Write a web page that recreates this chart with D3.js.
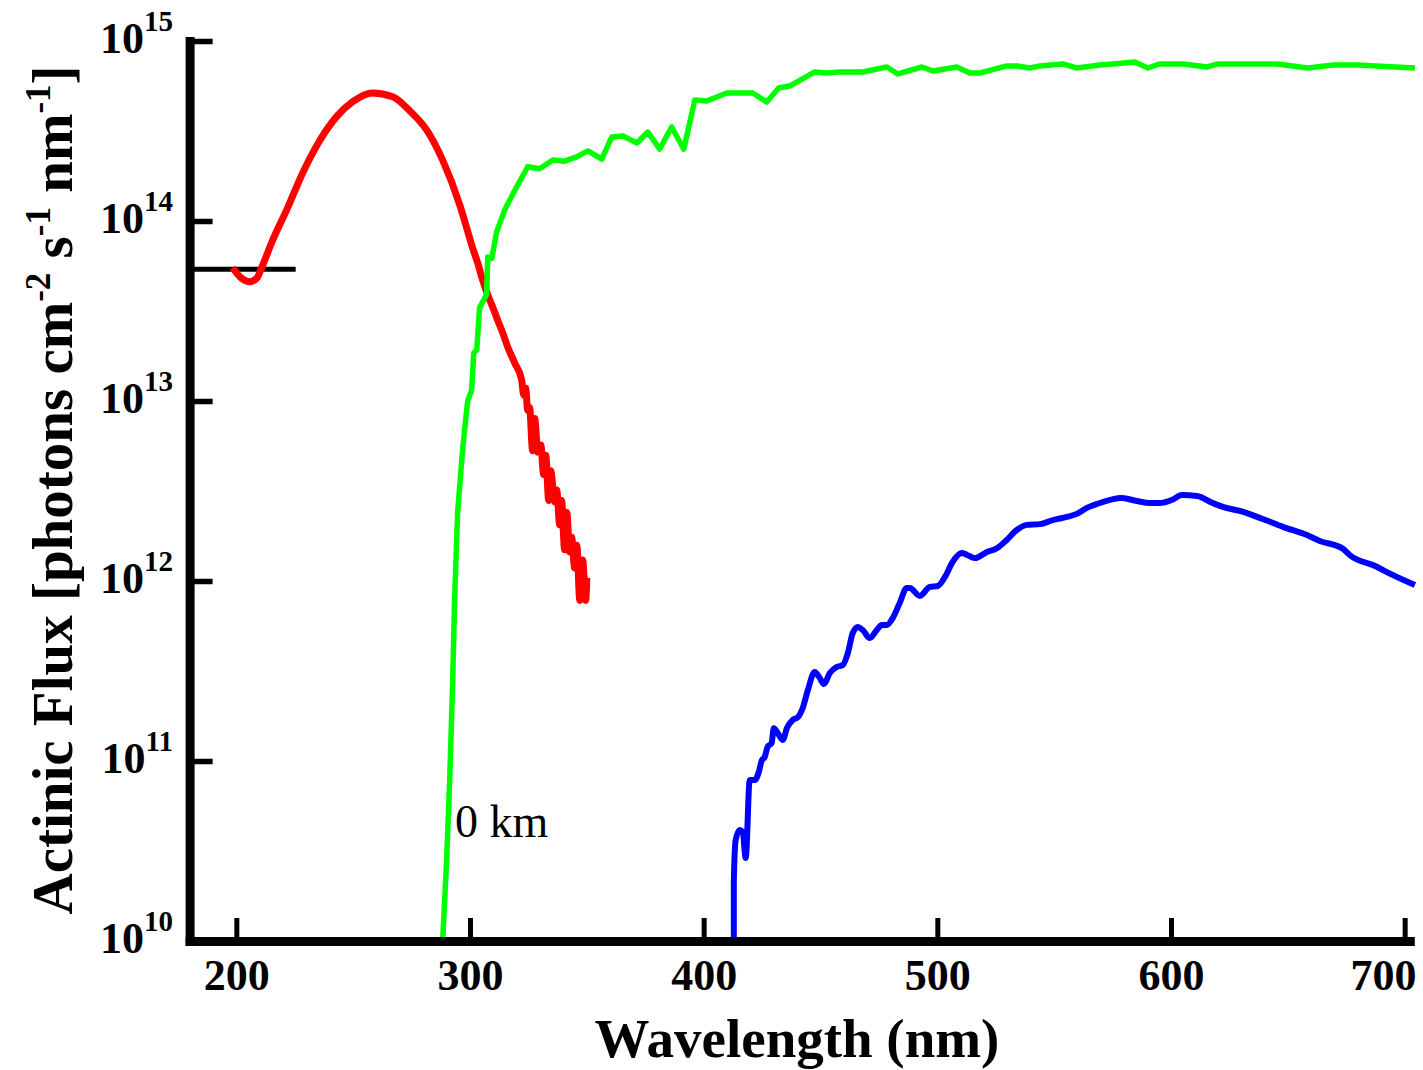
<!DOCTYPE html>
<html>
<head>
<meta charset="utf-8">
<script src="https://cdn.jsdelivr.net/npm/d3@7"></script>
<style>
  html, body { margin: 0; padding: 0; background: #fff; }
  svg { display: block; }
  text { font-family: "Liberation Serif", "Times New Roman", Times, serif; }
</style>
</head>
<body>
<svg id="chart" width="1423" height="1070"></svg>
<script>
// Actinic flux spectra (photons cm^-2 s^-1 nm^-1) versus wavelength (nm)

const xTicks = [200, 300, 400, 500, 600, 700];
const yTicks = [10, 11, 12, 13, 14, 15]; // exponents of ten

// extraterrestrial reference level below 225 nm
const blackWl   = [181.3, 190, 200, 210, 225.4];
const blackFlux = [5.4e13, 5.4e13, 5.4e13, 5.4e13, 5.4e13];

// UV band (red)
const redWl = [198.4, 202.3, 205.7, 208.7, 210.8, 215.5, 221.5, 228.4, 235.7, 242.9,
  249.8, 258.3, 266.9, 274.2, 281.5, 288.3, 295.6, 298.6, 300.7, 303.3, 305.4, 307.6,
  309.7, 311.8, 314.0, 316.1, 319.1, 322.1, 323.0, 323.8, 324.7, 325.5,
  326.8, 327.7, 329.0, 330.3, 331.5, 332.4,
  333.7, 334.5, 336.3, 337.1, 338.4, 339.2, 340.5, 341.4, 342.7, 343.5, 344.8,
  345.7, 347.0, 348.2, 349.5, 350.0];
const redFlux = [5.5e13, 4.8e13, 4.6e13, 4.8e13, 5.5e13, 7.8e13, 1.15e14, 1.85e14, 2.8e14, 3.8e14,
  4.6e14, 5.15e14, 4.9e14, 4.1e14, 3.2e14, 2.18e14, 1.23e14, 9.15e13, 7.36e13, 5.84e13, 4.7e13, 3.88e13,
  3.33e13, 2.82e13, 2.39e13, 2.0e13, 1.63e13, 1.31e13, 1.08e13, 1.18e13, 8.9e12, 9.2e12,
  5.3e12, 8.0e12, 5.2e12, 5.7e12, 3.9e12, 5.0e12,
  2.8e12, 4.1e12, 2.75e12, 3.2e12, 2.05e12, 2.8e12, 1.49e12, 2.4e12, 1.45e12, 1.75e12, 1.18e12,
  1.58e12, 7.8e11, 1.31e12, 7.8e11, 1.04e12];

// surface spectrum, 0 km (green)
const greenWl = [288.3, 290.0, 291.3, 292.6, 293.4, 294.7, 296.9, 299.0, 300.7, 301.6,
  302.9, 304.1, 305.4, 307.1, 307.6, 309.3, 311.4, 314.8, 320.0, 324.7, 329.8, 335.4,
  340.5, 345.7, 350.4, 356.4, 360.7, 365.4, 371.4, 376.1, 381.2, 386.3, 391.5, 396.2,
  401.3, 409.9, 421.0, 427.0, 432.1, 436.8, 447.5, 452.7, 458.3, 468.1, 478.4, 483.1,
  493.4, 498.1, 508.3, 513.9, 518.2, 529.7, 534.0, 539.6, 543.9, 553.7, 559.7, 569.6,
  575.1, 584.5, 590.1, 595.2, 605.1, 615.4, 620.1, 645.3, 658.6, 669.3, 679.6, 704.4];
const greenFlux = [1.0e10, 2.8e10, 7.8e10, 2.8e11, 7.8e11, 2.4e12, 5.5e12, 1.0e13, 1.15e13, 1.85e13,
  1.92e13, 3.3e13, 3.55e13, 3.9e13, 6.3e13, 6.2e13, 8.7e13, 1.15e14, 1.55e14, 2.0e14, 1.95e14, 2.18e14,
  2.15e14, 2.27e14, 2.45e14, 2.21e14, 2.93e14, 2.97e14, 2.71e14, 3.12e14, 2.51e14, 3.33e14, 2.51e14, 4.7e14,
  4.64e14, 5.14e14, 5.14e14, 4.58e14, 5.48e14, 5.62e14, 6.73e14, 6.64e14, 6.73e14, 6.73e14, 7.17e14, 6.56e14,
  7.17e14, 6.81e14, 7.17e14, 6.64e14, 6.64e14, 7.27e14, 7.27e14, 7.08e14, 7.27e14, 7.46e14, 7.08e14, 7.36e14,
  7.46e14, 7.65e14, 7.08e14, 7.46e14, 7.46e14, 7.17e14, 7.46e14, 7.46e14, 7.08e14, 7.36e14, 7.36e14, 7.08e14];

// visible band (blue)
const blueWl = [412.9, 412.9, 413.7, 415.4, 416.7, 418.0, 419.7, 421.9, 423.6, 424.9,
  426.1, 427.4, 429.1, 430.0, 431.7, 433.9, 435.6, 438.1, 440.3, 442.4, 444.6, 447.5,
  449.7, 451.4, 454.0, 457.0, 459.5, 461.7, 463.8, 466.0, 468.1, 471.1, 474.1, 476.2,
  478.4, 480.9, 483.9, 486.9, 488.2, 492.5, 496.8, 500.2, 503.2, 506.6, 510.5, 512.6,
  516.0, 521.2, 525.5, 529.7, 534.0, 538.3, 543.9, 549.4, 555.4, 559.7, 564.0, 568.3,
  579.0, 585.4, 591.0, 595.2, 600.4, 604.7, 611.1, 617.9, 622.2, 629.5, 639.3, 647.9,
  658.2, 663.7, 673.6, 676.6, 688.1, 692.4, 704.4];
const blueFlux = [1.0e10, 2.1e10, 3.64e10, 4.14e10, 4.03e10, 2.89e10, 7.84e10, 7.84e10, 8.69e10, 1.01e11,
  1.05e11, 1.2e11, 1.26e11, 1.52e11, 1.43e11, 1.31e11, 1.52e11, 1.69e11, 1.75e11, 1.97e11, 2.48e11, 3.12e11,
  2.89e11, 2.68e11, 3.08e11, 3.33e11, 3.41e11, 3.98e11, 5.14e11, 5.55e11, 5.34e11, 4.82e11, 5.34e11, 5.7e11,
  5.7e11, 6.22e11, 7.55e11, 9.15e11, 9.15e11, 8.26e11, 9.27e11, 9.38e11, 1.05e12, 1.28e12, 1.43e12, 1.4e12,
  1.34e12, 1.45e12, 1.52e12, 1.69e12, 1.92e12, 2.05e12, 2.07e12, 2.18e12, 2.27e12, 2.36e12, 2.55e12, 2.68e12,
  2.89e12, 2.78e12, 2.71e12, 2.71e12, 2.82e12, 3.0e12, 2.97e12, 2.71e12, 2.58e12, 2.45e12, 2.21e12, 2.0e12,
  1.8e12, 1.67e12, 1.51e12, 1.39e12, 1.2e12, 1.12e12, 9.5e11];

const FONT = '"Liberation Serif", "Times New Roman", Times, serif';

const svg = d3.select("#chart");

const x = d3.scaleLinear().domain([180, 702.2]).range([189.6, 1409.8]);
const y = d3.scaleLog().domain([1e10, 1e15]).range([941, 41]);

const zip = (a, b) => a.map((v, i) => [v, b[i]]);

function drawSeries(wl, flux, color, width, curve) {
  const line = d3.line()
    .x(d => x(d[0]))
    .y(d => y(d[1]))
    .curve(curve);
  svg.append("path")
    .datum(zip(wl, flux))
    .attr("fill", "none")
    .attr("stroke", color)
    .attr("stroke-width", width)
    .attr("stroke-linejoin", "round")
    .attr("stroke-linecap", "butt")
    .attr("d", line);
}

drawSeries(blackWl, blackFlux, "#000000", 5, d3.curveLinear);
drawSeries(redWl, redFlux, "#ff0000", 7, d3.curveMonotoneX);
drawSeries(greenWl, greenFlux, "#00ff00", 5.5, d3.curveLinear);
drawSeries(blueWl, blueFlux, "#0000ff", 6, d3.curveMonotoneX);

// x axis: ticks pointing up into the plot
const xAxis = d3.axisBottom(x)
  .tickValues(xTicks)
  .tickSizeInner(-23)
  .tickSizeOuter(0)
  .tickPadding(18)
  .tickFormat(d3.format("d"));

const gx = svg.append("g")
  .attr("transform", `translate(0,${y(1e10)})`)
  .call(xAxis);
gx.select(".domain").attr("stroke", "#000").attr("stroke-width", 9).attr("stroke-linecap", "square");
gx.selectAll(".tick line").attr("stroke", "#000").attr("stroke-width", 5);
gx.selectAll(".tick text")
  .attr("fill", "#000")
  .style("font-family", FONT)
  .style("font-size", "44px")
  .style("font-weight", "bold");
// last label sits flush against the right edge
gx.selectAll(".tick text")
  .filter(d => d === xTicks[xTicks.length - 1])
  .attr("text-anchor", "end")
  .attr("x", 1416 - x(xTicks[xTicks.length - 1]));

// y axis: logarithmic, ticks pointing right into the plot
const yAxis = d3.axisLeft(y)
  .tickValues(yTicks.map(e => Math.pow(10, e)))
  .tickSizeInner(-23)
  .tickSizeOuter(0)
  .tickFormat("");

const gy = svg.append("g")
  .attr("transform", `translate(${x(180)},0)`)
  .call(yAxis);
gy.select(".domain").attr("stroke", "#000").attr("stroke-width", 9).attr("stroke-linecap", "square");
gy.selectAll(".tick line").attr("stroke", "#000").attr("stroke-width", 5.5);

// power-of-ten tick labels
const yLabels = svg.append("g")
  .attr("font-family", FONT)
  .attr("font-weight", "bold")
  .attr("fill", "#000");
yTicks.forEach(e => {
  const t = yLabels.append("text")
    .attr("x", 173)
    .attr("y", y(Math.pow(10, e)) + 12)
    .attr("text-anchor", "end")
    .attr("font-size", 44);
  t.append("tspan").text("10");
  t.append("tspan").attr("dy", -22).attr("font-size", 29).text(String(e));
});

// axis titles
svg.append("text")
  .attr("x", 797)
  .attr("y", 1057)
  .attr("text-anchor", "middle")
  .attr("font-family", FONT)
  .attr("font-weight", "bold")
  .attr("font-size", 55)
  .text("Wavelength (nm)");

const yTitle = svg.append("text")
  .attr("transform", "translate(72,490) rotate(-90)")
  .attr("text-anchor", "middle")
  .attr("font-family", FONT)
  .attr("font-weight", "bold")
  .attr("font-size", 57);
yTitle.append("tspan").text("Actinic Flux [photons cm");
yTitle.append("tspan").attr("dy", -22).attr("font-size", 35).text("-2");
yTitle.append("tspan").attr("dy", 22).text(" s");
yTitle.append("tspan").attr("dy", -22).attr("font-size", 35).text("-1");
yTitle.append("tspan").attr("dy", 22).text(" nm");
yTitle.append("tspan").attr("dy", -22).attr("font-size", 35).text("-1");
yTitle.append("tspan").attr("dy", 22).text("]");

// curve label
svg.append("text")
  .attr("x", 455)
  .attr("y", 837)
  .attr("font-family", FONT)
  .attr("font-size", 46)
  .attr("fill", "#000")
  .text("0 km");
</script>
</body>
</html>
